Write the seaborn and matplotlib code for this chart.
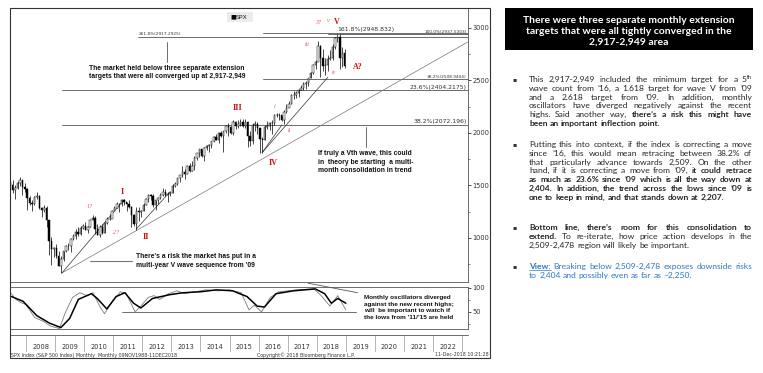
import numpy as np
import pandas as pd
import matplotlib
matplotlib.use("Agg")
import matplotlib.pyplot as plt
import seaborn as sns
from matplotlib.patches import Rectangle

sns.set_theme(style="white")
plt.rcParams["font.family"] = ["DejaVu Sans"]

# =============================================================================
# Data
# =============================================================================

# SPX monthly bars, Jun 2007 - Dec 2018
first_open = 1530
spx_close = [
    1503, 1455, 1474, 1527, 1549, 1481, 1468,
    1378, 1331, 1323, 1386, 1400, 1280, 1267, 1283, 1166, 969, 896, 903,
    826, 735, 798, 873, 919, 919, 987, 1021, 1057, 1036, 1096, 1115,
    1074, 1104, 1169, 1187, 1089, 1031, 1102, 1049, 1141, 1183, 1181, 1258,
    1286, 1327, 1326, 1364, 1345, 1321, 1292, 1219, 1131, 1253, 1247, 1258,
    1312, 1366, 1408, 1398, 1310, 1362, 1379, 1407, 1441, 1412, 1416, 1426,
    1498, 1515, 1569, 1598, 1631, 1606, 1686, 1633, 1682, 1757, 1806, 1848,
    1783, 1859, 1872, 1884, 1924, 1960, 1931, 2003, 1972, 2018, 2068, 2059,
    1995, 2105, 2068, 2086, 2107, 2063, 2104, 1972, 1920, 2079, 2080, 2044,
    1940, 1932, 2060, 2065, 2097, 2099, 2174, 2171, 2168, 2126, 2199, 2239,
    2279, 2364, 2363, 2384, 2412, 2423, 2470, 2472, 2519, 2575, 2648, 2674,
    2824, 2714, 2641, 2648, 2705, 2718, 2816, 2902, 2914, 2712, 2760, 2637,
]
spx_high = [
    1541, 1556, 1504, 1539, 1576, 1545, 1523,
    1471, 1396, 1359, 1397, 1440, 1405, 1292, 1314, 1303, 1167, 1007, 918,
    943, 875, 832, 878, 930, 956, 996, 1039, 1080, 1101, 1113, 1130,
    1150, 1112, 1180, 1220, 1206, 1131, 1120, 1130, 1148, 1196, 1227, 1263,
    1303, 1345, 1333, 1367, 1371, 1346, 1357, 1308, 1230, 1293, 1292, 1269,
    1333, 1378, 1420, 1422, 1415, 1363, 1392, 1426, 1475, 1470, 1434, 1448,
    1510, 1530, 1570, 1598, 1687, 1654, 1698, 1709, 1730, 1776, 1813, 1849,
    1851, 1867, 1884, 1897, 1925, 1968, 1991, 2005, 2019, 2019, 2075, 2094,
    2064, 2120, 2115, 2126, 2135, 2130, 2132, 2113, 2021, 2094, 2116, 2104,
    2038, 1962, 2072, 2111, 2103, 2120, 2178, 2193, 2187, 2169, 2214, 2278,
    2301, 2372, 2400, 2399, 2418, 2454, 2484, 2491, 2520, 2582, 2657, 2695,
    2873, 2836, 2801, 2718, 2742, 2791, 2848, 2916, 2941, 2940, 2815, 2800,
]
spx_low = [
    1484, 1427, 1371, 1462, 1490, 1407, 1435,
    1270, 1316, 1257, 1313, 1373, 1272, 1200, 1248, 1107, 840, 741, 815,
    805, 734, 667, 783, 866, 888, 869, 979, 992, 1020, 1029, 1086,
    1071, 1045, 1105, 1170, 1040, 1028, 1011, 1040, 1049, 1131, 1173, 1187,
    1262, 1289, 1249, 1305, 1311, 1259, 1282, 1101, 1114, 1075, 1158, 1202,
    1258, 1311, 1341, 1357, 1291, 1267, 1325, 1372, 1396, 1403, 1343, 1398,
    1426, 1485, 1501, 1537, 1581, 1560, 1604, 1627, 1633, 1646, 1746, 1767,
    1770, 1737, 1834, 1815, 1859, 1915, 1930, 1905, 1964, 1821, 2001, 1972,
    1988, 1981, 2040, 2048, 2067, 2056, 2044, 1867, 1872, 1893, 2019, 1993,
    1812, 1810, 1937, 2033, 2025, 1992, 2075, 2147, 2119, 2114, 2084, 2187,
    2245, 2271, 2322, 2329, 2344, 2405, 2407, 2417, 2446, 2520, 2557, 2605,
    2682, 2533, 2586, 2553, 2594, 2698, 2698, 2796, 2864, 2604, 2631, 2621,
]

# fibonacci levels: label, value, year where the line starts
fib_labels = ["261.8%(2917.2925)", "161.8%(2948.832)", "100.0%(2937.5303)",
              "38.2%(2508.9404)", "23.6%(2404.2175)", "38.2%(2072.196)"]
fib_values = [2917.2925, 2948.832, 2937.5303, 2508.9404, 2404.2175, 2072.196]
fib_start = [2011.85, 2016.14, 2018.38, 2016.14, 2009.24, 2009.24]

# oscillator (slow = thick black, fast = thin grey)
slow_x = [2007.5, 2007.9, 2008.37, 2008.82, 2009.2, 2009.5, 2009.8, 2010.25, 2010.45,
          2010.78, 2011.1, 2011.4, 2011.7, 2011.95, 2012.35, 2012.95, 2013.4, 2014.0,
          2014.55, 2015.1, 2015.6, 2015.95, 2016.2, 2016.6, 2017.2, 2017.95, 2018.27,
          2018.5, 2018.72, 2019.0]
slow_y = [82, 72, 42, 26, 17, 36, 76, 88, 78, 56, 82, 90, 68, 58, 78, 86, 90, 92,
          96, 94, 82, 62, 60, 88, 94, 98, 88, 68, 78, 68]
fast_x = [2007.5, 2007.65, 2007.8, 2008.0, 2008.3, 2008.6, 2008.85, 2009.15, 2009.35,
          2009.6, 2009.85, 2010.1, 2010.3, 2010.55, 2010.7, 2010.95, 2011.25, 2011.45,
          2011.75, 2011.95, 2012.2, 2012.4, 2012.6, 2012.9, 2013.2, 2013.45, 2013.8,
          2014.2, 2014.6, 2015.0, 2015.4, 2015.67, 2015.85, 2016.1, 2016.4, 2016.7,
          2017.3, 2017.9, 2018.15, 2018.45, 2018.72, 2019.0]
fast_y = [88, 76, 70, 65, 38, 30, 20, 15, 48, 80, 90, 84, 90, 60, 46, 70, 92, 88,
          50, 62, 80, 84, 76, 88, 94, 88, 92, 96, 94, 96, 90, 54, 64, 50, 80, 92,
          96, 98, 84, 62, 84, 54]

years = list(range(2008, 2023))

# elliott wave labels (text, year, price)
big_waves = [("I", 2011.30, 1438), ("II", 2012.12, 1010), ("III", 2015.29, 2238),
             ("IV", 2016.49, 1714), ("V", 2018.69, 3060), ("A?", 2019.41, 2629)]
small_waves = [("1?", 2010.20, 1295), ("2?", 2011.09, 1048), ("3?", 2018.03, 3050),
               ("v", 2018.41, 3067), ("iii", 2017.66, 2838), ("iv", 2018.58, 2571),
               ("i", 2016.56, 2248), ("ii", 2017.07, 2019)]

# =============================================================================
# Figure layout (pixel helpers)
# =============================================================================

W, H = 763, 373
fig = plt.figure(figsize=(W / 100, H / 100), dpi=100)
fig.patch.set_facecolor("white")


def box(x0, y0, x1, y1):
    return [x0 / W, 1 - y1 / H, (x1 - x0) / W, (y1 - y0) / H]


def ftext(x, y, s, **kw):
    return fig.text(x / W, 1 - y / H, s, **kw)


ax = fig.add_axes(box(10, 9, 468, 282))
osc = fig.add_axes(box(10, 287, 468, 329))
yr = fig.add_axes(box(10, 335, 468, 352))
XLIM = (2007.45, 2023.2)

# outer frame of the bloomberg panel
fig.add_artist(Rectangle((10 / W, 1 - 358 / H), 480 / W, 350 / H, transform=fig.transFigure,
                         fill=False, edgecolor="#333333", lw=0.8))

# =============================================================================
# Price panel
# =============================================================================

dates = pd.date_range("2007-06-01", periods=len(spx_close), freq="MS")
bars = pd.DataFrame({"x": dates.year + (dates.month - 0.5) / 12,
                     "close": spx_close, "high": spx_high, "low": spx_low})
bars["open"] = [first_open] + spx_close[:-1]
up = bars["close"] >= bars["open"]

ax.vlines(bars["x"], bars["low"], bars["high"], color="black", lw=0.5, zorder=2)
ax.bar(bars["x"][up], (bars["close"] - bars["open"])[up], bottom=bars["open"][up],
       width=0.05, color="white", edgecolor="black", lw=0.35, zorder=3)
ax.bar(bars["x"][~up], (bars["open"] - bars["close"])[~up], bottom=bars["close"][~up],
       width=0.05, color="black", edgecolor="black", lw=0.35, zorder=3)

# fib lines
for lab, val, x0 in zip(fib_labels, fib_values, fib_start):
    ax.plot([x0, XLIM[1]], [val, val], color="#555555", lw=0.6, zorder=1)
big_fib = ["161.8%(2948.832)", "23.6%(2404.2175)", "38.2%(2072.196)"]
for lab, val, x0 in zip(fib_labels, fib_values, fib_start):
    fs = 4.4 if lab in big_fib else 3.1
    if lab.startswith("261"):
        ax.text(x0 + 0.02, val + 8, lab, fontsize=fs, color="#333333", va="bottom", ha="left")
    elif lab.startswith("161"):
        ax.text(2018.72, val + 8, lab, fontsize=fs, color="#333333", va="bottom", ha="left")
    else:
        ax.text(XLIM[1] - 0.05, val + 8, lab, fontsize=fs, color="#333333", va="bottom", ha="right")

# trend lines
low09 = (2009.24, 667)
ax.plot([low09[0], 2023.2], [low09[1], 2867], color="#777777", lw=0.5, zorder=1)
ax.plot([low09[0], 2011.37], [low09[1], 1362], color="#333333", lw=0.5, zorder=1)
ax.plot([2011.81, 2012.95], [1090, 1438], color="#333333", lw=0.5, zorder=1)
ax.plot([2016.12, 2018.38], [1812, 2530], color="#333333", lw=0.5, zorder=1)
ax.plot([2016.12, 2016.8], [1812, 2076], color="#333333", lw=0.5, zorder=1)

# annotation pointers
ax.plot([2012.85, 2012.85], [2867, 2676], color="#555555", lw=0.6)
ax.plot([2019.68, 2019.68], [2057, 1867], color="#555555", lw=0.6)
ax.plot([2010.2, 2011.64], [781, 781], color="#777777", lw=0.8)

for txt, x, y in big_waves:
    ax.text(x, y, txt, color="#cc1111", fontsize=5.8, weight="bold",
            family="Liberation Serif", ha="center", va="center")
for txt, x, y in small_waves:
    ax.text(x, y, txt, color="#e05555", fontsize=4.3, style="italic",
            family="Liberation Serif", ha="center", va="center")

ax.set_xlim(XLIM)
ax.set_ylim(580, 3180)
ax.yaxis.tick_right()
ax.set_yticks([1000, 1500, 2000, 2500, 3000])
ax.set_yticks([750, 1250, 1750, 2250, 2750], minor=True)
ax.tick_params(axis="y", which="major", direction="out", length=2, width=0.6,
               labelsize=4.8, pad=1, colors="#333333", right=True)
ax.tick_params(axis="y", which="minor", direction="out", length=1.2, width=0.5,
               colors="#555555", right=True)
ax.set_xticks([])
for s in ["left", "top"]:
    ax.spines[s].set_visible(False)
for s in ["right", "bottom"]:
    ax.spines[s].set_color("#555555")
    ax.spines[s].set_linewidth(0.6)

# legend
fig.add_artist(Rectangle((227 / W, 1 - 22 / H), 26 / W, 10 / H, transform=fig.transFigure,
                         facecolor="#ebebeb", edgecolor="none"))
ftext(230, 17.3, "\u25a0", fontsize=4.4, color="black", va="center")
ftext(236, 17.3, "SPX", fontsize=4.5, color="#222222", va="center")

bold_kw = dict(fontsize=4.9, weight="bold", family="Liberation Sans", color="#111111",
               linespacing=1.35)
ftext(167, 72.5, "The market held below three separate extension\n"
      "targets that were all converged up at 2,917-2,949", ha="center", va="center", **bold_kw)
ftext(136, 261, "There\u2019s a risk the market has put in a\n"
      "multi-year V wave sequence from \u201909", ha="left", va="center", **bold_kw)
ftext(318, 162, "If truly a Vth wave, this could\nin  theory be starting  a multi-\n"
      "month consolidation in trend", ha="left", va="center", **bold_kw)
ftext(364, 307.5, "Monthly oscillators diverged\nagainst the new recent highs;\n"
      "will  be important to watch if\nthe lows from \u201911/\u201915 are held",
      ha="left", va="center", **dict(bold_kw, fontsize=4.6))

# =============================================================================
# Oscillator panel
# =============================================================================

sns.lineplot(x=fast_x, y=fast_y, ax=osc, color="#7a7a7a", lw=0.6)
sns.lineplot(x=slow_x, y=slow_y, ax=osc, color="black", lw=1.1)
osc.plot([2011.3, 2019.35], [50, 50], color="#555555", lw=0.6)
osc.plot([2017.7, 2019.4], [110, 90], color="#555555", lw=0.6, clip_on=False)
osc.set_xlim(XLIM)
osc.set_ylim(14, 102)
osc.yaxis.tick_right()
osc.set_yticks([50, 100])
osc.set_yticks([25, 75], minor=True)
osc.tick_params(axis="y", which="major", direction="out", length=2, width=0.6,
                labelsize=4.8, pad=1, colors="#333333", right=True)
osc.tick_params(axis="y", which="minor", direction="out", length=1.2, width=0.5,
                colors="#555555", right=True)
osc.set_xticks([])
osc.set_xlabel("")
osc.set_ylabel("")
osc.spines["left"].set_visible(False)
for s in ["right", "top", "bottom"]:
    osc.spines[s].set_color("#555555")
    osc.spines[s].set_linewidth(0.6)

# year band
yr.set_xlim(XLIM)
yr.set_ylim(0, 1)
yr.vlines(years + [2023], 0, 1, color="#999999", lw=0.5)
for y in years:
    yr.text(y + 0.5, 0.32, str(y), fontsize=4.8, color="#333333", ha="center", va="center")
yr.set_xticks([])
yr.set_yticks([])
for s in ["left", "right", "bottom"]:
    yr.spines[s].set_visible(False)
yr.spines["top"].set_color("#555555")
yr.spines["top"].set_linewidth(0.6)

foot_kw = dict(fontsize=3.4, color="#333333", va="center")
ftext(11, 355, "SPX Index (S&P 500 Index) Monthly  Monthly 09NOV1988-11DEC2018", **foot_kw)
ftext(257, 355, "Copyright\u00a9 2018 Bloomberg Finance L.P.", **foot_kw)
ftext(489, 355, "11-Dec-2018 10:21:28", ha="right", **foot_kw)

# =============================================================================
# Commentary panel
# =============================================================================

fig.add_artist(Rectangle((505 / W, 1 - 50 / H), 248 / W, 42 / H, transform=fig.transFigure,
                         facecolor="black", edgecolor="none"))
heading = ["There were three separate monthly extension",
           "targets that were all tightly converged in the",
           "2,917-2,949 area"]
for i, line in enumerate(heading):
    ftext(629, 20.5 + i * 11, line, ha="center", va="center", color="white",
          fontsize=7.5, weight="bold", family="Lato")

body_font = "Lato"
body_size = 6.1
text_left, text_right = 529, 752
line_h = 8.8
renderer = fig.canvas.get_renderer()


def text_width(word, st):
    size = body_size * 0.65 if st == "sup" else body_size
    weight = "normal" if st in ("n", "sup") else "bold"
    t = fig.text(0, 0, word, fontsize=size, family=body_font, weight=weight)
    w = t.get_window_extent(renderer).width
    t.remove()
    return w


space_w = text_width("a a", "n") - text_width("aa", "n")


def draw_par(lines, y, color):
    ftext(512, y - 0.5, "\u25aa", fontsize=4.5, color="#333333", va="baseline")
    for i, segs in enumerate(lines):
        words = []
        for txt, st in segs:
            if st == "sup":
                words.append([txt, st])
            else:
                words += [[w, st] for w in txt.split()]
        widths = [text_width(w, st) for w, st in words]
        n_gaps = sum(1 for w, st in words[1:] if st != "sup")
        last = i == len(lines) - 1
        gap = space_w
        if not last and n_gaps > 0:
            gap = max((text_right - text_left - sum(widths)) / n_gaps, 0.6 * space_w)
        x = text_left
        for j, ((w, st), wd) in enumerate(zip(words, widths)):
            if j > 0 and st != "sup":
                x += gap
            if st == "sup":
                ftext(x, y - 2.8, w, fontsize=body_size * 0.65, family=body_font,
                      color=color, va="baseline")
            else:
                ftext(x, y, w, fontsize=body_size, family=body_font, color=color,
                      weight="normal" if st == "n" else "bold", va="baseline")
                if st == "u":
                    fig.add_artist(plt.Line2D([x / W, (x + wd) / W], [1 - (y + 1.3) / H] * 2,
                                              color=color, lw=0.5, transform=fig.transFigure))
            x += wd
        y += line_h


par1 = [
    [("This 2,917-2,949 included the minimum target for a 5", "n"), ("th", "sup")],
    [("wave count from \u201916, a 1.618 target for wave V from \u201909", "n")],
    [("and a 2.618 target from \u201909. In addition, monthly", "n")],
    [("oscillators have diverged negatively against the recent", "n")],
    [("highs. Said another way,", "n"), ("there\u2019s a risk this might have", "b")],
    [("been an important inflection point.", "b")],
]
par2 = [
    [("Putting this into context, if the index is correcting a move", "n")],
    [("since \u201916, this would mean retracing between 38.2% of", "n")],
    [("that particularly advance towards 2,509. On the other", "n")],
    [("hand, if it is correcting a move from \u201909,", "n"), ("it could retrace", "b")],
    [("as much as 23.6% since \u201909 which is all the way down at", "b")],
    [("2,404. In addition, the trend across the lows since \u201909 is", "b")],
    [("one to keep in mind, and that stands down at 2,207.", "b")],
]
par3 = [
    [("Bottom line, there\u2019s room for this consolidation to", "b")],
    [("extend.", "b"), ("To re-iterate, how price action develops in the", "n")],
    [("2,509-2,478 region will likely be important.", "n")],
]
par4 = [
    [("View:", "u"), ("Breaking below 2,509-2,478 exposes downside risks", "n")],
    [("to 2,404 and possibly even as far as ~2,250.", "n")],
]

draw_par(par1, 82, "#262626")
draw_par(par2, 147, "#262626")
draw_par(par3, 230, "#262626")
draw_par(par4, 269, "#2e78c2")

plt.savefig("out.png", dpi=100)
